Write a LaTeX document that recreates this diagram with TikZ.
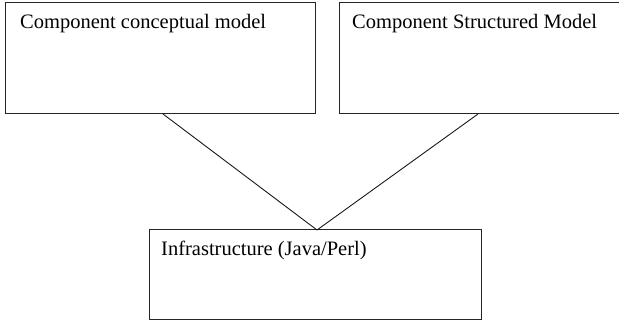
\documentclass[tikz,border=0pt]{standalone}
\usepackage{fontspec}
\setmainfont{Liberation Serif}
\begin{document}
\begin{tikzpicture}[x=1bp,y=1bp,
  boxstyle/.style={draw=black!85, line width=1.3bp, rectangle, inner sep=0pt, fill=white},
  labelstyle/.style={anchor=base west, inner sep=0pt, font=\fontsize{20.5bp}{24bp}\selectfont},
  linkstyle/.style={draw=black!90, line width=0.9bp}]
\useasboundingbox (0,0) rectangle (619,323);
\node[boxstyle, minimum width=310bp, minimum height=111bp, anchor=south west] (b1) at (5,209) {};
\node[boxstyle, minimum width=290bp, minimum height=111bp, anchor=south west] (b2) at (339,209) {};
\node[boxstyle, minimum width=332bp, minimum height=90bp, anchor=south west] (b3) at (149,3) {};
\node[labelstyle] (t1) at (20,294.7) {Component conceptual model};
\node[labelstyle] (t2) at (352,294.7) {Component Structured Model};
\node[labelstyle] (t3) at (161,67.5) {Infrastructure (Java/Perl)};
\coordinate (p1) at (163,209);
\coordinate (p2) at (478,209);
\coordinate (apex) at (317,93);
\draw[linkstyle] (p1) -- (apex);
\draw[linkstyle] (p2) -- (apex);
\end{tikzpicture}
\end{document}
